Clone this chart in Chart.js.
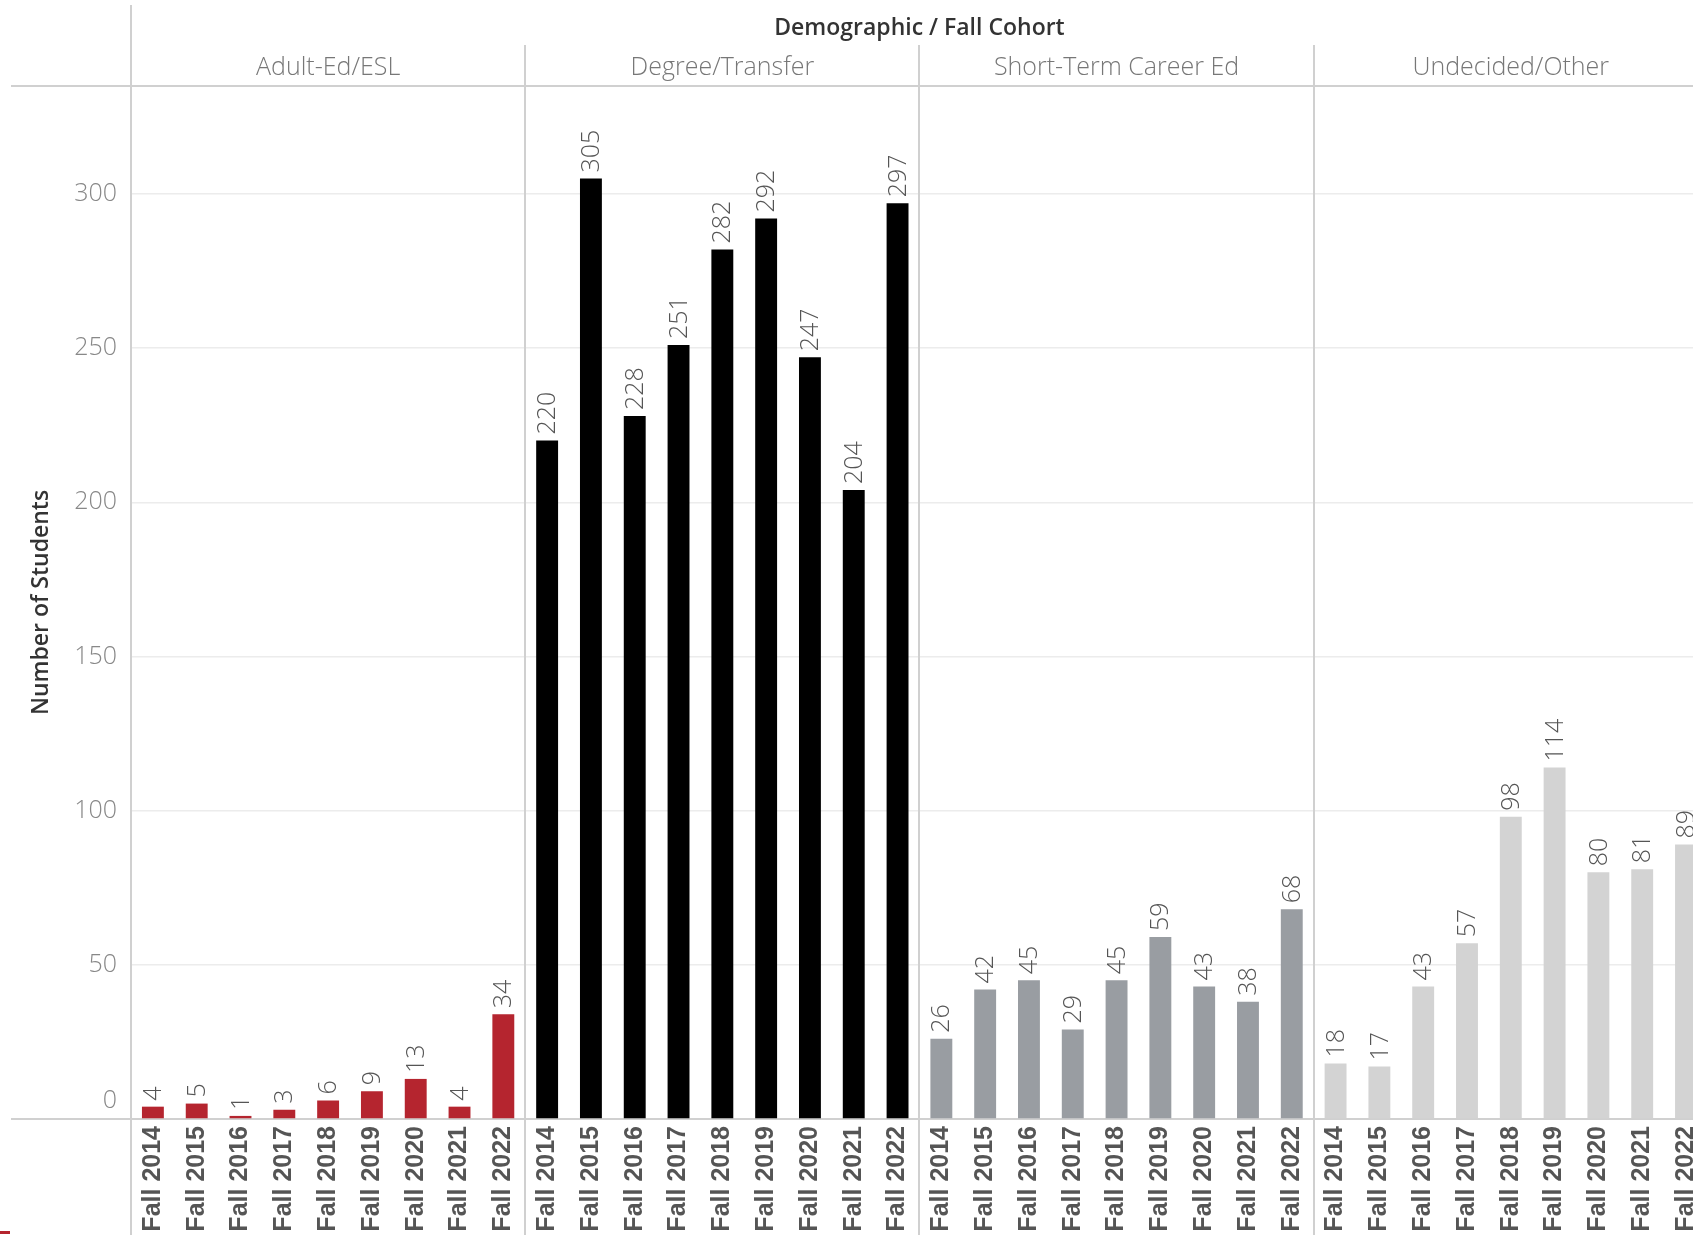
<!DOCTYPE html>
<html>
<head>
<meta charset="utf-8">
<script src="https://cdn.jsdelivr.net/npm/chart.js@4"></script>
<style>
  html, body { margin: 0; padding: 0; background: #fff; overflow: hidden; }
  #wrap { position: relative; width: 1723px; height: 1235px; }
  #mark { position: absolute; left: 0; top: 1231px; width: 10px; height: 3px; background: #b5252f; }
</style>
</head>
<body>
<div id="wrap">
  <canvas id="graph1" width="1723" height="1235"></canvas>
  <div id="mark"></div>
</div>
<script>
// data
const years = ['Fall 2014', 'Fall 2015', 'Fall 2016', 'Fall 2017', 'Fall 2018', 'Fall 2019', 'Fall 2020', 'Fall 2021', 'Fall 2022'];
const groups = ['Adult-Ed/ESL', 'Degree/Transfer', 'Short-Term Career Ed', 'Undecided/Other'];
const adultEd = [4, 5, 1, 3, 6, 9, 13, 4, 34];
const degreeTransfer = [220, 305, 228, 251, 282, 292, 247, 204, 297];
const shortTerm = [26, 42, 45, 29, 45, 59, 43, 38, 68];
const undecided = [18, 17, 43, 57, 98, 114, 80, 81, 89];
const groupColors = ['#b5252f', '#000000', '#999da2', '#d3d3d3'];
const yTicks = [0, 50, 100, 150, 200, 250, 300];

const series = [adultEd, degreeTransfer, shortTerm, undecided];
const labels = [];
const values = [];
const colors = [];
series.forEach(function(s, g) {
    s.forEach(function(v, i) {
        labels.push(years[i]);
        values.push(v);
        colors.push(groupColors[g]);
    });
});

const lineColor = '#d0d0d0';
const tickFont = '300 25px "Open Sans"';

// panel headers, separators and value labels
const panels = {
    id: 'panels',
    beforeDatasetsDraw(chart) {
        const ctx = chart.ctx;
        const x = chart.scales.x;
        const y = chart.scales.y;
        const a = chart.chartArea;
        const n = years.length;
        ctx.save();
        ctx.strokeStyle = lineColor;
        ctx.lineWidth = 2;
        // header bottom line and baseline
        ctx.beginPath();
        ctx.moveTo(11, a.top);
        ctx.lineTo(chart.width, a.top);
        ctx.moveTo(11, a.bottom);
        ctx.lineTo(chart.width, a.bottom);
        // left border
        ctx.moveTo(a.left, 5);
        ctx.lineTo(a.left, chart.height);
        ctx.stroke();
        ctx.beginPath();
        for (let g = 1; g < groups.length; g++) {
            const sx = Math.round((x.getPixelForValue(g * n - 1) + x.getPixelForValue(g * n)) / 2);
            ctx.moveTo(sx, 45);
            ctx.lineTo(sx, chart.height);
        }
        ctx.stroke();

        ctx.fillStyle = '#333';
        ctx.font = '600 23px "Open Sans"';
        ctx.textAlign = 'center';
        ctx.textBaseline = 'middle';
        ctx.fillText('Demographic / Fall Cohort', (a.left + a.right) / 2, 28);
        ctx.fillStyle = '#777';
        ctx.font = '300 25px "Open Sans"';
        const half = x.width / labels.length / 2;
        for (let g = 0; g < groups.length; g++) {
            const left = x.getPixelForValue(g * n) - half;
            const right = x.getPixelForValue(g * n + n - 1) + half;
            ctx.fillText(groups[g], (left + right) / 2, 68);
        }
        // the zero tick sits raised above the baseline
        ctx.fillStyle = '#888';
        ctx.font = tickFont;
        ctx.textAlign = 'right';
        ctx.fillText('0', a.left - 14, y.getPixelForValue(0) - 18);
        ctx.restore();
    },
    afterDatasetsDraw(chart) {
        const ctx = chart.ctx;
        const meta = chart.getDatasetMeta(0);
        ctx.save();
        ctx.fillStyle = '#555';
        ctx.font = '300 25px "Open Sans"';
        ctx.textAlign = 'left';
        ctx.textBaseline = 'middle';
        meta.data.forEach(function(bar, i) {
            ctx.save();
            ctx.translate(bar.x, bar.y - 6);
            ctx.rotate(-Math.PI / 2);
            ctx.fillText(String(values[i]), 0, 1);
            ctx.restore();
        });
        ctx.restore();
    }
};

const data = {
    labels: labels,
    datasets: [{
        data: values,
        backgroundColor: colors,
        borderWidth: 0,
        barPercentage: 0.5,
        categoryPercentage: 1
    }]
};

const config = {
    type: 'bar',
    data: data,
    options: {
        responsive: false,
        animation: false,
        layout: { padding: { top: 86, right: 0, left: 0, bottom: 0 } },
        plugins: {
            legend: { display: false },
            tooltip: { enabled: false }
        },
        scales: {
            x: {
                grid: { display: false, drawTicks: false },
                border: { display: false },
                ticks: {
                    autoSkip: false,
                    minRotation: 90,
                    maxRotation: 90,
                    padding: 7,
                    color: '#555',
                    font: { family: '"Liberation Sans", Arial', size: 25, weight: 'bold' }
                },
                afterFit(scale) { scale.height = 116; }
            },
            y: {
                min: 0,
                max: 335,
                afterBuildTicks(scale) {
                    scale.ticks = yTicks.map(function(v) { return { value: v }; });
                },
                grid: {
                    drawTicks: false,
                    color: function(c) { return c.tick && c.tick.value === 0 ? 'rgba(0,0,0,0)' : '#ececec'; },
                    lineWidth: 1.5
                },
                border: { display: false },
                ticks: {
                    padding: 14,
                    color: '#888',
                    font: { family: '"Open Sans"', size: 25, weight: '300' },
                    callback: function(v) { return v === 0 ? '' : v; }
                },
                title: {
                    display: true,
                    text: 'Number of Students',
                    color: '#333',
                    padding: { top: 28, bottom: 0 },
                    font: { family: '"Open Sans"', size: 23, weight: '600' }
                },
                afterFit(scale) { scale.width = 131; }
            }
        }
    },
    plugins: [panels]
};

new Chart(document.querySelector('#graph1'), config);
</script>
</body>
</html>
